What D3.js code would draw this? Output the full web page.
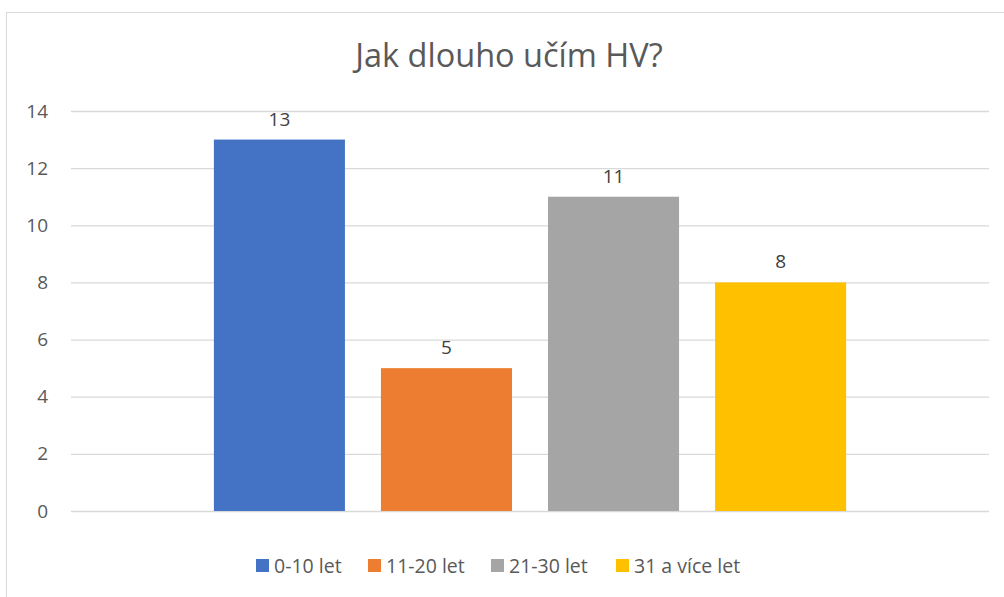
<!DOCTYPE html>
<html><head><meta charset="utf-8">
<script src="https://cdn.jsdelivr.net/npm/d3@7"></script>
<style>body{margin:0;background:#fff}svg{display:block}text{font-family:"Open Sans",sans-serif}</style>
</head><body>
<svg id="c" width="1004" height="597"></svg>
<script>
const title = "Jak dlouho učím HV?";
const seriesNames = ["0-10 let", "11-20 let", "21-30 let", "31 a více let"];
const values = [13, 5, 11, 8];
const colors = ["#4472C4", "#ED7D31", "#A5A5A5", "#FFC000"];
const yTicks = [0, 2, 4, 6, 8, 10, 12, 14];

const svg = d3.select("#c");
svg.append("rect").attr("x", 6.5).attr("y", 12.5).attr("width", 1010).attr("height", 600)
  .attr("fill", "#fff").attr("stroke", "#d9d9d9");

const plot = {left: 71, right: 989, top: 111, bottom: 511};
const y = d3.scaleLinear().domain([0, 14]).range([plot.bottom, plot.top]);
const xOuter = d3.scaleBand().domain(["c"]).range([plot.left, plot.right]).paddingInner(0).paddingOuter(0.226);
const xInner = d3.scaleBand().domain(seriesNames).range([0, xOuter.bandwidth()]).paddingInner(0.2156).paddingOuter(0);

const yAxis = d3.axisLeft(y).tickValues(yTicks).tickSize(-(plot.right - plot.left)).tickPadding(23);
const g = svg.append("g").attr("transform", `translate(${plot.left},0)`).call(yAxis);
g.select(".domain").remove();
g.selectAll(".tick line").attr("stroke", "#d9d9d9").attr("stroke-width", 1.3);
g.selectAll(".tick text").attr("fill", "#595959").attr("font-size", 19).attr("font-family", "Open Sans");

const bars = svg.append("g").attr("transform", `translate(${xOuter("c")},0)`);
bars.selectAll("rect").data(values).join("rect")
  .attr("x", (d, i) => xInner(seriesNames[i]))
  .attr("width", xInner.bandwidth())
  .attr("y", d => y(d))
  .attr("height", d => y(0) - y(d))
  .attr("fill", (d, i) => colors[i]);
bars.selectAll("text").data(values).join("text")
  .attr("x", (d, i) => xInner(seriesNames[i]) + xInner.bandwidth() / 2)
  .attr("y", d => y(d) - 14)
  .attr("text-anchor", "middle").attr("fill", "#404040").attr("font-size", 19)
  .text(d => d);

svg.append("text").attr("x", 509).attr("y", 67).attr("text-anchor", "middle")
  .attr("fill", "#595959").attr("font-size", 32.5).text(title);

const legendX = [256, 368, 491, 616];
const lg = svg.append("g");
seriesNames.forEach((s, i) => {
  lg.append("rect").attr("x", legendX[i]).attr("y", 559).attr("width", 13).attr("height", 13).attr("fill", colors[i]);
  lg.append("text").attr("x", legendX[i] + 18).attr("y", 573).attr("fill", "#595959").attr("font-size", 19.5).text(s);
});
</script>
</body></html>
